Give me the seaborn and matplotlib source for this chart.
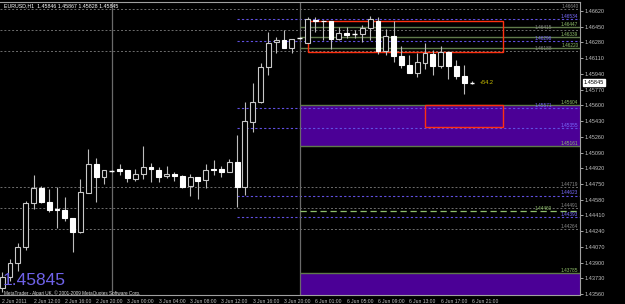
import matplotlib
matplotlib.use("Agg")
import matplotlib.pyplot as plt
import matplotlib.transforms as mtransforms
from matplotlib.patches import Rectangle
import seaborn as sns
import pandas as pd

# ---------------- data ----------------
bar_index = list(range(-1, 60))
opens = [1.43626, 1.43745, 1.43896, 1.44069, 1.44545, 1.44707, 1.44555, 1.44480, 1.44469, 1.44382,
         1.44231, 1.44653, 1.44966, 1.44826, 1.44890, 1.44912, 1.44901, 1.44804, 1.44858, 1.44934,
         1.44901, 1.44836, 1.44858, 1.44836, 1.44728, 1.44826, 1.44793, 1.44912, 1.44912, 1.44880,
         1.44988, 1.44718, 1.45420, 1.45636, 1.46015, 1.46285, 1.46307, 1.46220, 1.46328, 1.46274,
         1.46523, 1.46512, 1.46512, 1.46317, 1.46382, 1.46371, 1.46371, 1.46436, 1.46512, 1.46188,
         1.46350, 1.46134, 1.46036, 1.45950, 1.46058, 1.46155, 1.46026, 1.46177, 1.46026, 1.45918,
         1.45846]
highs = [1.43799, 1.43939, 1.44112, 1.44566, 1.44847, 1.44728, 1.44696, 1.44718, 1.44610, 1.44382,
         1.44804, 1.45128, 1.45031, 1.44901, 1.44901, 1.44966, 1.44901, 1.44912, 1.45161, 1.44977,
         1.44934, 1.44944, 1.44880, 1.44847, 1.44858, 1.44826, 1.44966, 1.45009, 1.44944, 1.45020,
         1.45280, 1.45636, 1.45842, 1.46058, 1.46393, 1.46339, 1.46415, 1.46317, 1.46339, 1.46555,
         1.46555, 1.46523, 1.46512, 1.46447, 1.46447, 1.46415, 1.46469, 1.46566, 1.46555, 1.46426,
         1.46512, 1.46242, 1.46144, 1.46166, 1.46274, 1.46198, 1.46242, 1.46177, 1.46090, 1.46036,
         1.45867]
lows = [1.43583, 1.43702, 1.43810, 1.44037, 1.44480, 1.44545, 1.44447, 1.44274, 1.44350, 1.44015,
        1.44220, 1.44653, 1.44555, 1.44750, 1.44880, 1.44847, 1.44772, 1.44782, 1.44804, 1.44772,
        1.44772, 1.44815, 1.44782, 1.44707, 1.44620, 1.44588, 1.44707, 1.44847, 1.44826, 1.44880,
        1.44501, 1.44631, 1.45312, 1.45626, 1.45928, 1.46166, 1.46220, 1.46166, 1.46317, 1.46274,
        1.46393, 1.46307, 1.46209, 1.46307, 1.46328, 1.46328, 1.46285, 1.46307, 1.46155, 1.46144,
        1.46069, 1.46004, 1.45950, 1.45907, 1.45993, 1.45928, 1.46004, 1.45885, 1.45885, 1.45723,
        1.45828]
closes = [1.43745, 1.43896, 1.44069, 1.44545, 1.44707, 1.44555, 1.44469, 1.44472, 1.44382, 1.44231,
          1.44664, 1.44966, 1.44826, 1.44901, 1.44890, 1.44890, 1.44815, 1.44858, 1.44934, 1.44912,
          1.44826, 1.44858, 1.44836, 1.44718, 1.44826, 1.44782, 1.44901, 1.44901, 1.44880, 1.44988,
          1.44718, 1.45431, 1.45636, 1.46015, 1.46274, 1.46307, 1.46220, 1.46317, 1.46328, 1.46534,
          1.46507, 1.46507, 1.46317, 1.46382, 1.46361, 1.46371, 1.46436, 1.46534, 1.46188, 1.46350,
          1.46134, 1.46036, 1.45950, 1.46069, 1.46166, 1.46026, 1.46177, 1.46026, 1.45918, 1.45842,
          1.45845]

time_tick_bars = [-1, 3, 7, 11, 15, 19, 23, 27, 31, 35, 39, 43, 47, 51, 55, 59]
time_tick_labels = ["2 Jun 2011", "2 Jun 12:00", "2 Jun 16:00", "2 Jun 20:00", "3 Jun 00:00",
                    "3 Jun 04:00", "3 Jun 08:00", "3 Jun 12:00", "3 Jun 16:00", "3 Jun 20:00",
                    "6 Jun 01:00", "6 Jun 05:00", "6 Jun 09:00", "6 Jun 13:00", "6 Jun 17:00",
                    "6 Jun 21:00"]
price_ticks = [1.46620, 1.46450, 1.46280, 1.46110, 1.45940, 1.45770, 1.45600, 1.45430, 1.45260,
               1.45090, 1.44920, 1.44750, 1.44580, 1.44410, 1.44240, 1.44070, 1.43900, 1.43730,
               1.43560]

gray_levels = [1.46640, 1.46415, 1.46188, 1.44719, 1.44491, 1.44264]
purple_levels = [1.46534, 1.46296, 1.45571, 1.45355, 1.44623, 1.44393]
purple_start_bar = 29
green_levels = [1.46447, 1.46339, 1.46220, 1.45604, 1.45161, 1.43785]
green_dash_levels = [1.44460]
zone_start_bar = 37
zones = [(1.45161, 1.45604), (1.43540, 1.43785)]
red_boxes = [(38, 63, 1.46177, 1.46512), (53, 63, 1.45366, 1.45604)]
vlines_bars = [13, 37]
last_price = 1.45845
pips_text = "+54.2"

df = pd.DataFrame({"bar": bar_index, "open": opens, "high": highs, "low": lows, "close": closes})

# ---------------- style ----------------
sns.set_theme(style="dark", rc={
    "axes.facecolor": "black", "figure.facecolor": "black", "axes.edgecolor": "#a0a0a0",
    "axes.grid": False, "xtick.color": "#c0c0c0", "ytick.color": "#c0c0c0",
    "text.color": "white", "axes.linewidth": 0.8,
})
plt.rcParams["font.family"] = ["Liberation Sans", "DejaVu Sans"]

W, H = 625, 304
fig = plt.figure(figsize=(W / 100, H / 100), dpi=100)
ax = fig.add_axes([0, 1 - 295 / H, 580 / W, 293 / H])
ax.set_facecolor("black")

XMIN, XMAX = -1.28, 72.8
ax.set_xlim(XMIN, XMAX)
ax.set_ylim(1.43550, 1.46717)

# level lines
for lv in gray_levels:
    ax.axhline(lv, color="#6e6e6e", lw=0.7, ls=(0, (2, 2)), zorder=1)
for lv in purple_levels:
    ax.hlines(lv, purple_start_bar, XMAX, color="#6050e0", lw=0.8, ls=(0, (2, 2)), zorder=1)
for (lo, hi) in zones:
    ax.add_patch(Rectangle((zone_start_bar, lo), XMAX - zone_start_bar, hi - lo,
                           facecolor="#4b0096", edgecolor="none", zorder=0.5))
for lv in green_levels:
    ax.hlines(lv, zone_start_bar, XMAX, color="#5f7a4a", lw=1.0, zorder=1.2)
for lv in green_dash_levels:
    ax.hlines(lv, zone_start_bar, XMAX, color="#8fbf6a", lw=0.9, ls=(0, (5, 3)), zorder=1.2)
for b in vlines_bars:
    ax.axvline(b, color="#6a6a6a", lw=0.9, zorder=1)
for (x0, x1, lo, hi) in red_boxes:
    ax.add_patch(Rectangle((x0, lo), x1 - x0, hi - lo, facecolor="none",
                           edgecolor="#ff3010", lw=1.0, zorder=3))

# level labels on the right edge (staggered where crowded)
lab_tr = mtransforms.blended_transform_factory(ax.transAxes, ax.transData)
labels = ([(v, "#8a8a8a") for v in gray_levels] + [(v, "#7a6cff") for v in purple_levels] +
          [(v, "#8fbf6a") for v in green_levels + green_dash_levels])
labels.sort(key=lambda t: -t[0])
cols = [0.997, 0.952, 0.907]
last_in_col = [None, None, None]
for v, c in labels:
    k = 0
    while k < 2 and last_in_col[k] is not None and last_in_col[k] - v < 0.00058:
        k += 1
    last_in_col[k] = v
    ax.text(cols[k], v + 0.00003, f"{v:.5f}", color=c, fontsize=3.4, ha="right", va="bottom",
            transform=lab_tr, zorder=4)

# candles
bw = 0.62
wick_c = "#bdbdbd"
ax.vlines(df["bar"], df["low"], df["high"], color=wick_c, lw=0.8, zorder=5)
for _, r in df.iterrows():
    lo, hi = min(r.open, r.close), max(r.open, r.close)
    if hi - lo < 0.00004:
        ax.hlines(r.close, r.bar - bw / 2, r.bar + bw / 2, color="white", lw=1.0, zorder=6)
    elif r.close >= r.open:
        ax.add_patch(Rectangle((r.bar - bw / 2, lo), bw, hi - lo, facecolor="black",
                               edgecolor="#c8c8c8", lw=0.8, zorder=6))
    else:
        ax.add_patch(Rectangle((r.bar - bw / 2, lo), bw, hi - lo, facecolor="white",
                               edgecolor="white", lw=0.8, zorder=6))

ax.text(bar_index[-1] + 1.0, last_price, pips_text, color="#d4c800", fontsize=4.0,
        ha="left", va="center", zorder=7)

# axes / ticks
ax.spines["left"].set_visible(False)
for s in ["top", "right", "bottom"]:
    ax.spines[s].set_color("#a0a0a0")
ax.yaxis.tick_right()
ax.set_yticks(price_ticks)
ax.set_yticklabels([f"{p:.5f}" for p in price_ticks], fontsize=4.0, color="#d0d0d0")
ax.tick_params(axis="y", length=2, width=0.6, pad=1.5, colors="#c0c0c0")
ax.set_xticks(time_tick_bars)
ax.set_xticklabels(time_tick_labels, fontsize=3.6, color="#d0d0d0", ha="left")
ax.tick_params(axis="x", length=2, width=0.6, pad=1.0, colors="#c0c0c0")
for t in ax.get_xticklabels():
    t.set_horizontalalignment("left")

# current price box
ax.text(1.006, last_price, f"{last_price:.5f}", transform=lab_tr, fontsize=4.0, color="black",
        ha="left", va="center", zorder=10, clip_on=False,
        bbox=dict(boxstyle="square,pad=0.15", facecolor="white", edgecolor="white"))

# header and watermark texts
fig.text(4 / W, 1 - 6 / H, "EURUSD,H1  1.45846 1.45867 1.45828 1.45845", fontsize=3.8,
         color="white", ha="left", va="center")
fig.text(3 / W, 1 - 285 / H, f"{last_price:.5f}", fontsize=12.5, color="#6f62e8",
         ha="left", va="baseline")
fig.text(4 / W, 1 - 294.5 / H, "MetaTrader - Alpari UK, \u00a9 2001-2009 MetaQuotes Software Corp.",
         fontsize=3.3, color="#e0e0e0", ha="left", va="baseline")

fig.savefig("out.png", dpi=100, facecolor="black")
